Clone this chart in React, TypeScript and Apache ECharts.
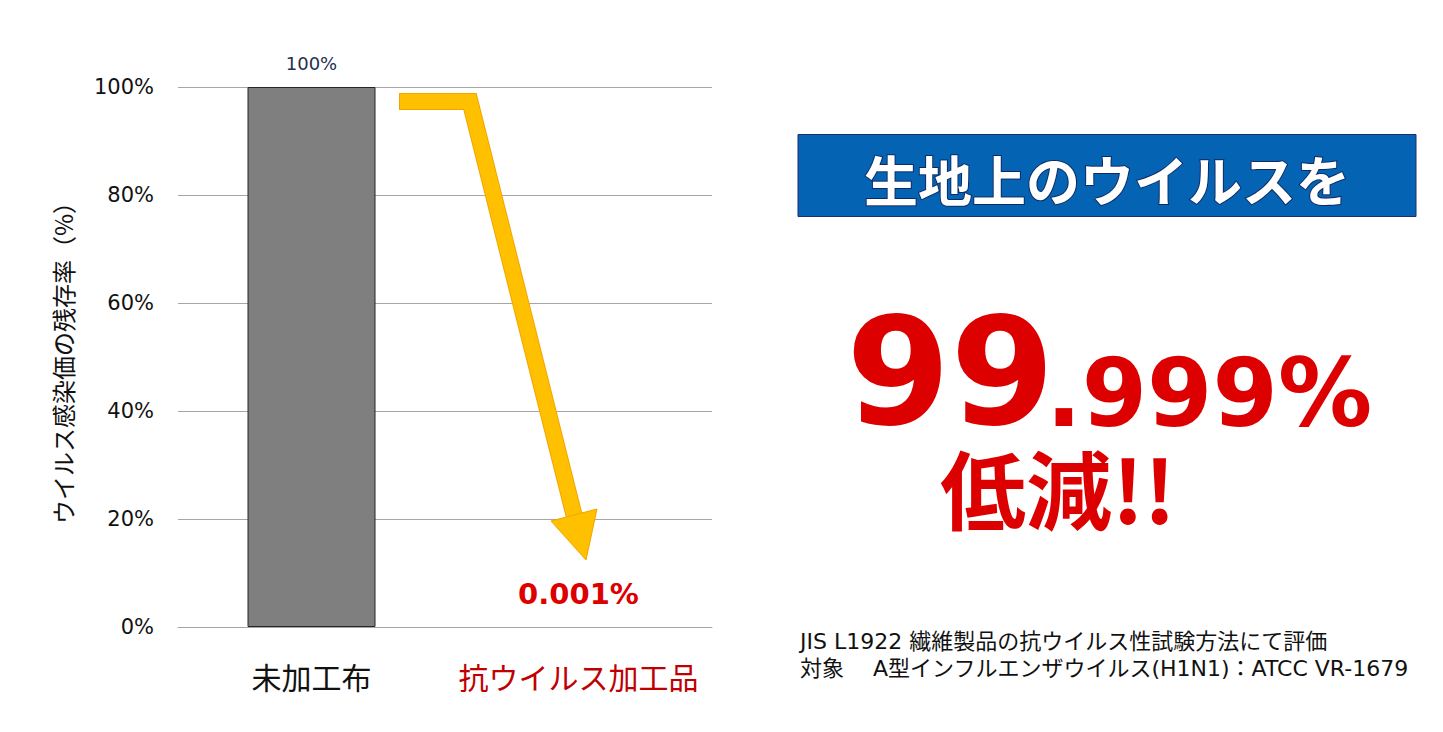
import React, { useEffect, useRef } from "react";
import * as echarts from "echarts";

const categories = ["未加工布", "抗ウイルス加工品"];
const categoryColors = ["#111111", "#C00000"];
const residualRates = [100, 0.001];
const valueLabels = ["100%", "0.001%"];
const yTicks = [0, 20, 40, 60, 80, 100];
const yAxisName = "ウイルス感染価の残存率（%）";
const headline = "生地上のウイルスを";
const bigMain = "99";
const bigSub = ".999%";
const reduction = "低減!!";
const notes = [
  "JIS L1922 繊維製品の抗ウイルス性試験方法にて評価",
  "対象　 A型インフルエンザウイルス(H1N1)：ATCC VR-1679",
];

const FONT = '"Noto Sans CJK JP", "Noto Sans", sans-serif';
const MIX = '"DejaVu Sans", "Noto Sans CJK JP", sans-serif';

export default function App() {
  const ref = useRef<HTMLDivElement>(null);
  useEffect(() => {
    document.body.style.margin = "0";
    const chart = echarts.init(ref.current!, null, { renderer: "svg" });
    const option: any = {
      animation: false,
      backgroundColor: "#ffffff",
      textStyle: { fontFamily: FONT },
      grid: { left: 178, right: 731, top: 87, bottom: 105, containLabel: false },
      xAxis: {
        type: "category",
        data: categories.map((c, i) => ({ value: c, textStyle: { color: categoryColors[i] } })),
        axisLine: { show: true, lineStyle: { color: "#a6a6a6", width: 1 } },
        axisTick: { show: false },
        axisLabel: { fontSize: 30, fontFamily: FONT, margin: 34, interval: 0, hideOverlap: false },
      },
      yAxis: {
        type: "value",
        min: yTicks[0],
        max: yTicks[yTicks.length - 1],
        interval: 20,
        name: yAxisName,
        nameLocation: "middle",
        nameRotate: 90,
        nameGap: 104,
        nameTextStyle: { fontSize: 24, color: "#111", fontFamily: FONT },
        axisLine: { show: false },
        axisTick: { show: false },
        axisLabel: { formatter: "{value}%", fontSize: 21, color: "#111", margin: 24, fontFamily: MIX },
        splitLine: { lineStyle: { color: "#a6a6a6", width: 1 } },
      },
      series: [
        {
          type: "bar",
          barWidth: 128,
          data: residualRates.map((v, i) => ({
            value: v,
            itemStyle: { color: "#7f7f7f", borderColor: "#262626", borderWidth: i === 0 ? 1 : 0 },
            label:
              i === 0
                ? { show: true, position: "top", distance: 15, formatter: valueLabels[i], fontSize: 18, color: "#1F3050", fontFamily: MIX }
                : { show: true, position: "top", distance: 18, formatter: valueLabels[i], fontSize: 29, fontWeight: "bold", color: "#DD0000", fontFamily: MIX },
          })),
        },
      ],
      graphic: [
        {
          type: "polyline",
          shape: { points: [[399, 101.5], [470, 101.5], [574, 515]] },
          style: { stroke: "#F4A300", lineWidth: 17, fill: null, lineJoin: "miter", lineCap: "butt" },
          z: 10,
        },
        {
          type: "polyline",
          shape: { points: [[400, 101.5], [470, 101.5], [574, 515]] },
          style: { stroke: "#FFC000", lineWidth: 15, fill: null, lineJoin: "miter", lineCap: "butt" },
          z: 11,
        },
        {
          type: "polygon",
          shape: { points: [[551, 521], [597, 509], [586, 560]] },
          style: { fill: "#FFC000", stroke: "#F4A300", lineWidth: 1 },
          z: 12,
        },
        {
          type: "rect",
          shape: { x: 798, y: 134.5, width: 618, height: 82 },
          style: { fill: "#0563B3", stroke: "#1C2E6E", lineWidth: 1 },
          z: 10,
        },
        {
          type: "text",
          x: 1107,
          y: 178,
          style: {
            text: headline,
            fontSize: 54,
            fontWeight: "bold",
            fontFamily: FONT,
            fill: "#ffffff",
            stroke: "#0D2A66",
            lineWidth: 2,
            align: "center",
            verticalAlign: "middle",
          },
          z: 11,
        },
        {
          type: "text",
          x: 846,
          y: 372,
          style: {
            text: bigMain,
            fontSize: 150,
            lineHeight: 118,
            fontWeight: "bold",
            fontFamily: '"DejaVu Sans", sans-serif',
            fill: "#DD0000",
            align: "left",
            verticalAlign: "middle",
          },
          z: 11,
        },
        {
          type: "text",
          x: 1046,
          y: 393,
          style: {
            text: bigSub,
            fontSize: 94,
            lineHeight: 76,
            fontWeight: "bold",
            fontFamily: '"DejaVu Sans", sans-serif',
            fill: "#DD0000",
            align: "left",
            verticalAlign: "middle",
          },
          z: 11,
        },
        {
          type: "text",
          x: 940,
          y: 486,
          style: {
            text: reduction,
            fontSize: 86,
            lineHeight: 84,
            fontWeight: "bold",
            fontFamily: FONT,
            fill: "#DD0000",
            align: "left",
            verticalAlign: "middle",
          },
          z: 11,
        },
        ...notes.map((t, i) => ({
          type: "text",
          x: 800,
          y: 641 + i * 27,
          style: {
            text: t,
            fontSize: 22,
            lineHeight: 25,
            fontFamily: MIX,
            fill: "#111111",
            align: "left",
            verticalAlign: "middle",
          },
          z: 11,
        })),
      ],
    };
    chart.setOption(option);
    return () => chart.dispose();
  }, []);
  return <div ref={ref} style={{ width: 1443, height: 732 }} />;
}
